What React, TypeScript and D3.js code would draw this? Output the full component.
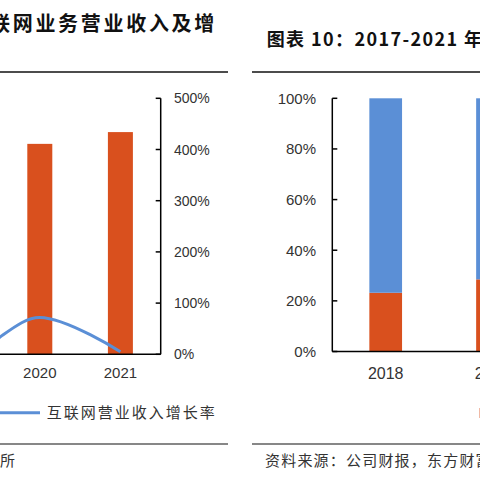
import * as d3 from "d3";

// left panel: internet revenue (bars, read on the visible % axis) + growth line
const leftYears = ["2017", "2018", "2019", "2020", "2021"];
const barYears = ["2020", "2021"];
const barValues = [411, 434];
const lineYears = ["2018", "2019", "2020", "2021"];
const growthValues = [188, 8, 72, 5];
const leftTicks = [0, 100, 200, 300, 400, 500];

// right panel: stacked share
const rightYears = ["2018", "2019", "2020", "2021"];
const shareYears = ["2018", "2019"];
const shareOrange = [0.232, 0.285];
const shareBlue = [0.768, 0.715];
const rightTicks = [0, 0.2, 0.4, 0.6, 0.8, 1];

const ORANGE = "#D9501E";
const BLUE = "#5B8FD6";
const TXT = "#333";
const SANS = "'Liberation Sans', Arial, sans-serif";
const CJK = "'Noto Sans CJK SC', sans-serif";

export default function App() {
  // left scales
  const step = 80.6;
  const axisL = 160.7;
  const xL = d3
    .scaleBand<string>()
    .domain(leftYears)
    .range([axisL - step * leftYears.length, axisL])
    .padding(0);
  const yL = d3.scaleLinear().domain([0, 500]).range([354.3, 98.3]);
  const barW = 25;
  const cxL = (k: string) => (xL(k) ?? 0) + xL.bandwidth() / 2;

  const line = d3
    .line<number>()
    .x((_, i) => cxL(lineYears[i]))
    .y((d) => yL(d))
    .curve(d3.curveCardinal.tension(0));

  // right scales
  const axisR = 332.3;
  const stepR = 106.8;
  const xR = d3
    .scaleBand<string>()
    .domain(rightYears)
    .range([axisR, axisR + stepR * rightYears.length])
    .padding(0);
  const yR = d3.scaleLinear().domain([0, 1]).range([351.5, 98.3]);
  const barWR = 32.7;
  const cxR = (k: string) => (xR(k) ?? 0) + xR.bandwidth() / 2;

  return (
    <div style={{ position: "fixed", left: 0, top: 0, width: 480, height: 480, background: "#fff" }}>
      <svg width={480} height={480} style={{ display: "block" }}>
        {/* ---------- left panel ---------- */}
        <text x={-32.7} y={31} fontFamily={CJK} fontWeight={700} fontSize={20} letterSpacing={2.7} fill="#111">
          互联网业务营业收入及增
        </text>
        <line x1={0} x2={228} y1={72} y2={72} stroke="#111" strokeWidth={1.5} />

        {barYears.map((k, i) => (
          <rect
            key={k}
            x={cxL(k) - barW / 2}
            y={yL(barValues[i])}
            width={barW}
            height={yL(0) - yL(barValues[i])}
            fill={ORANGE}
          />
        ))}
        <path d={line(growthValues) ?? ""} fill="none" stroke={BLUE} strokeWidth={3} />

        <line x1={0} x2={axisL} y1={yL(0)} y2={yL(0)} stroke="#000" strokeWidth={1.5} />
        <line x1={axisL} x2={axisL} y1={yL(500)} y2={yL(0)} stroke="#000" strokeWidth={1.5} />
        {leftTicks.map((t) => (
          <g key={t}>
            <line x1={axisL - 5} x2={axisL} y1={yL(t)} y2={yL(t)} stroke="#000" strokeWidth={1.5} />
            <text x={174} y={yL(t)} dy="0.36em" fontFamily={SANS} fontSize={14} fill={TXT}>
              {t}%
            </text>
          </g>
        ))}
        {barYears.map((k) => (
          <text key={k} x={cxL(k)} y={373} dy="0.36em" textAnchor="middle" fontFamily={SANS} fontSize={15} fill={TXT}>
            {k}
          </text>
        ))}

        <line x1={-5} x2={40} y1={412.7} y2={412.7} stroke={BLUE} strokeWidth={3} />
        <text x={46.7} y={413} dy="0.36em" fontFamily={CJK} fontSize={15} letterSpacing={2} fill={TXT}>
          互联网营业收入增长率
        </text>

        <line x1={0} x2={228} y1={444} y2={444} stroke="#111" strokeWidth={1.2} />
        <text x={0} y={466} fontFamily={CJK} fontSize={15} fill={TXT}>
          所
        </text>

        {/* ---------- right panel ---------- */}
        <text x={266.7} y={46} fontFamily={CJK} fontWeight={700} fontSize={18} letterSpacing={1.4} fill="#111">
          图表 10：2017-2021 年
        </text>
        <line x1={252} x2={480} y1={72} y2={72} stroke="#111" strokeWidth={1.5} />

        {shareYears.map((k, i) => (
          <g key={k}>
            <rect
              x={cxR(k) - barWR / 2}
              y={yR(shareOrange[i])}
              width={barWR}
              height={yR(0) - yR(shareOrange[i])}
              fill={ORANGE}
            />
            <rect
              x={cxR(k) - barWR / 2}
              y={yR(shareOrange[i] + shareBlue[i])}
              width={barWR}
              height={yR(shareOrange[i]) - yR(shareOrange[i] + shareBlue[i])}
              fill={BLUE}
            />
          </g>
        ))}

        <line x1={axisR} x2={480} y1={yR(0)} y2={yR(0)} stroke="#000" strokeWidth={1.5} />
        <line x1={axisR} x2={axisR} y1={yR(1)} y2={yR(0)} stroke="#000" strokeWidth={1.5} />
        {rightTicks.map((t) => (
          <g key={t}>
            <line x1={axisR} x2={axisR + 5} y1={yR(t)} y2={yR(t)} stroke="#000" strokeWidth={1.5} />
            <text x={316} y={yR(t)} dy="0.36em" textAnchor="end" fontFamily={SANS} fontSize={15} fill={TXT}>
              {Math.round(t * 100)}%
            </text>
          </g>
        ))}
        {shareYears.map((k) => (
          <text key={k} x={cxR(k)} y={373} dy="0.36em" textAnchor="middle" fontFamily={SANS} fontSize={16} fill={TXT}>
            {k}
          </text>
        ))}

        <rect x={479} y={408} width={10} height={10} fill={ORANGE} opacity={0.4} />

        <line x1={252} x2={480} y1={444} y2={444} stroke="#111" strokeWidth={1.2} />
        <text x={265} y={466} fontFamily={CJK} fontSize={15} letterSpacing={1.2} fill={TXT}>
          资料来源：公司财报，东方财富证券研究所
        </text>
      </svg>
    </div>
  );
}
